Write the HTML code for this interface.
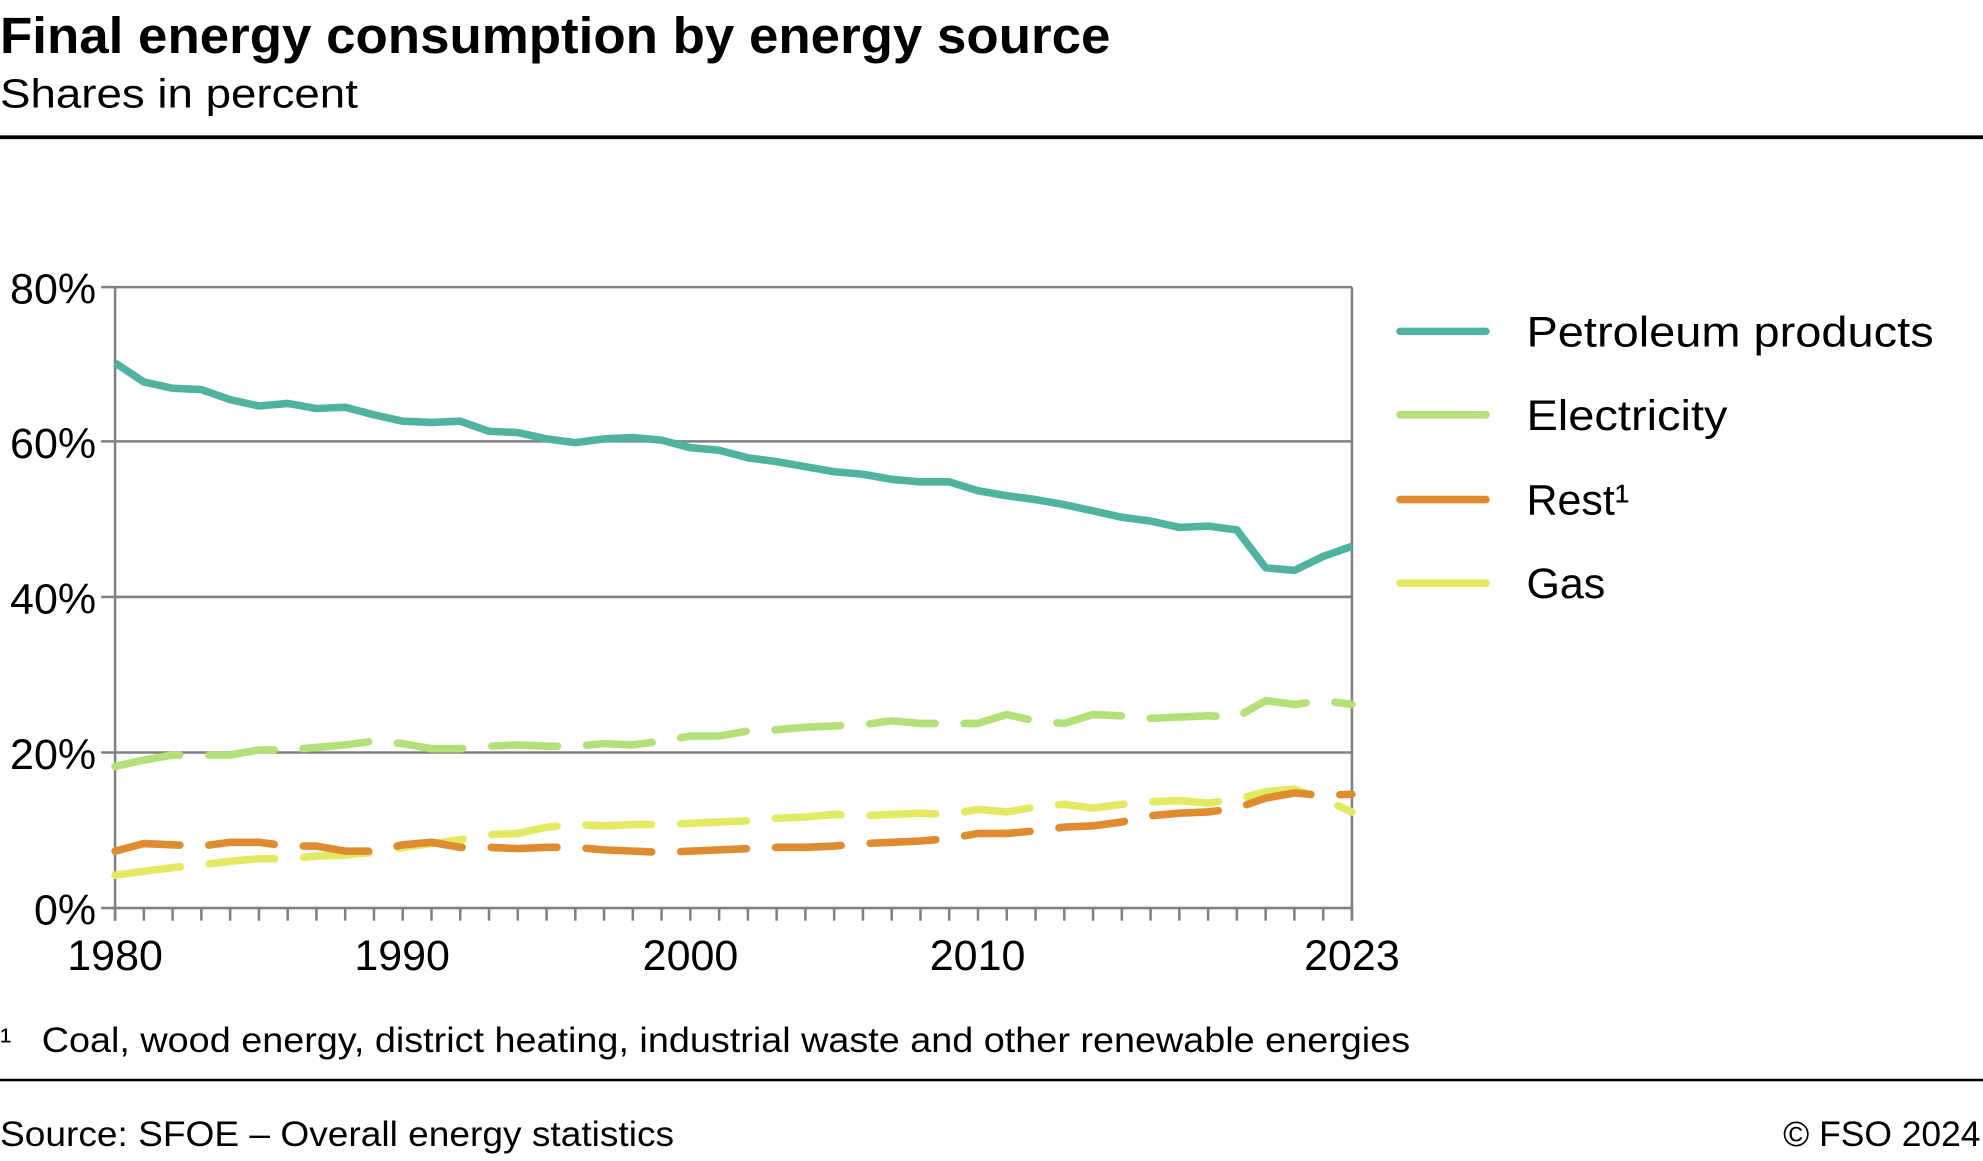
<!DOCTYPE html>
<html><head><meta charset="utf-8"><style>html,body{margin:0;padding:0;background:#fff}svg{display:block}text{font-family:"Liberation Sans",sans-serif;fill:#000}</style></head><body>
<svg width="1983" height="1161" viewBox="0 0 1568 918" xmlns="http://www.w3.org/2000/svg">
<text x="0" y="42" font-size="40" font-weight="bold" textLength="878" lengthAdjust="spacingAndGlyphs">Final energy consumption by energy source</text>
<text x="0" y="85" font-size="32" textLength="283" lengthAdjust="spacingAndGlyphs">Shares in percent</text>
<rect x="0" y="107" width="1568" height="3" fill="#000"/>
<g stroke="#808080" stroke-width="2">
<line x1="91" y1="227" x2="1069" y2="227"/><line x1="91" y1="349" x2="1069" y2="349"/><line x1="91" y1="472" x2="1069" y2="472"/><line x1="91" y1="595" x2="1069" y2="595"/><line x1="80" y1="718" x2="1069" y2="718"/>
<line x1="91" y1="227" x2="91" y2="728"/><line x1="1069" y1="227" x2="1069" y2="728"/>
<line x1="80" y1="227" x2="91" y2="227"/><line x1="80" y1="349" x2="91" y2="349"/><line x1="80" y1="472" x2="91" y2="472"/><line x1="80" y1="595" x2="91" y2="595"/>
</g>
<g id="ticks" stroke="#808080" stroke-width="2"></g>
<g font-size="34" text-anchor="end"><text x="76" y="240">80%</text><text x="76" y="362">60%</text><text x="76" y="485">40%</text><text x="76" y="608">20%</text><text x="76" y="731">0%</text></g>
<g font-size="34" text-anchor="middle"><text x="91" y="767">1980</text><text x="318" y="767">1990</text><text x="546" y="767">2000</text><text x="773" y="767">2010</text><text x="1069" y="767">2023</text></g>
<g id="series" fill="none" stroke-width="6" stroke-linejoin="round"></g>
<g stroke-width="6" stroke-linecap="round"><line x1="1107" y1="262" x2="1175" y2="262" stroke="#4fb3a0"/><line x1="1107" y1="328" x2="1175" y2="328" stroke="#b3e078"/><line x1="1107" y1="395" x2="1175" y2="395" stroke="#df8c30"/><line x1="1107" y1="461" x2="1175" y2="461" stroke="#e3ea62"/></g>
<g font-size="34"><text x="1207" y="274" textLength="322" lengthAdjust="spacingAndGlyphs">Petroleum products</text><text x="1207" y="340" textLength="159" lengthAdjust="spacingAndGlyphs">Electricity</text><text x="1207" y="407">Rest¹</text><text x="1207" y="473">Gas</text></g>
<text x="0" y="832" font-size="27">¹</text><text x="33" y="832" font-size="28" textLength="1082" lengthAdjust="spacingAndGlyphs">Coal, wood energy, district heating, industrial waste and other renewable energies</text>
<rect x="0" y="853" width="1568" height="2" fill="#000"/>
<text x="0" y="906" font-size="28" textLength="533" lengthAdjust="spacingAndGlyphs">Source: SFOE – Overall energy statistics</text>
<text x="1566" y="906" font-size="28" text-anchor="end">© FSO 2024</text>
</svg>
<script>
var ns="http://www.w3.org/2000/svg";
var t=document.getElementById("ticks");
for(var i=0;i<=43;i++){var x=91+i*978/43;var l=document.createElementNS(ns,"line");l.setAttribute("x1",x);l.setAttribute("x2",x);l.setAttribute("y1",718);l.setAttribute("y2",728);t.appendChild(l);}
var P=[287,302,307,308,316,321,319,323,322,328,333,334,333,341,342,347,350,347,346,348,354,356,362,365,369,373,375,379,381,381,388,392,395,399,404,409,412,417,416,419,449,451,440,432];
var E=[606,601,597,597,597,593,593,591,589,586,588,592,592,590,589,590,590,588,589,586,582,582,578,577,575,574,573,570,572,572,572,565,570,572,565,566,568,567,566,567,554,557,554,557];
var R=[673,667,668,669,666,666,669,669,673,673,668,666,670,670,671,670,670,672,673,674,673,672,671,670,670,669,667,666,665,663,659,659,657,654,653,650,645,643,642,639,631,627,629,628];
var G=[692,689,686,684,681,679,679,677,676,674,670,667,664,660,659,654,652,653,652,652,651,650,649,647,646,644,645,644,643,644,640,642,638,636,639,636,634,633,635,632,626,624,632,642];
var s=document.getElementById("series");
function add(d,c,dash){var p=document.createElementNS(ns,"polyline");p.setAttribute("points",d.map(function(y,i){return (91+i*978/43).toFixed(1)+","+y}).join(" "));p.setAttribute("stroke",c);if(dash){p.setAttribute("stroke-dasharray","52 23");p.setAttribute("stroke-linecap","round");}s.appendChild(p);}
add(E,"#b3e078",1);add(G,"#e3ea62",1);add(R,"#df8c30",1);add(P,"#4fb3a0",0);
</script>
</body></html>
